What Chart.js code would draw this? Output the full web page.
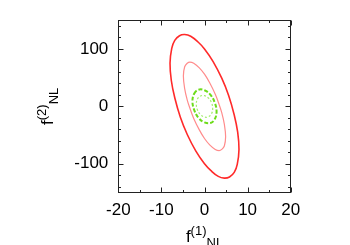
<!DOCTYPE html>
<html>
<head>
<meta charset="utf-8">
<script src="https://cdn.jsdelivr.net/npm/chart.js@4.4.1/dist/chart.umd.min.js"></script>
<style>
  html, body { margin: 0; padding: 0; background: #fff; }
</style>
</head>
<body>
<canvas id="chart" width="350" height="245"></canvas>
<script>
// axis ticks
const xTickValues = [-20, -10, 0, 10, 20];
const yTickValues = [-100, 0, 100];
const xMinorTicks = [-15, -5, 5, 15];
const yMinorTicks = [-140, -120, -80, -60, -40, -20, 20, 40, 60, 80, 120, 140];

// contour outlines, [f1, f2]
const outerRed = [
    [-8.0, 75], [-7.6, 101], [-6.9, 115], [-5.8, 123], [-4.6, 125], [-3.2, 122], [-1.5, 112],
    [0, 100], [2.0, 78], [4.0, 49], [5.6, 19], [6.9, -15], [7.7, -45],
    [8.0, -75], [7.6, -101], [6.9, -115], [5.8, -123], [4.6, -125], [3.2, -122], [1.5, -112],
    [0, -100], [-2.0, -78], [-4.0, -49], [-5.6, -19], [-6.9, 15], [-7.7, 45]
];
const innerRed = [
    [-4.9, 53], [-4.6, 69], [-4.0, 75], [-3.4, 77], [-2.5, 75], [-1.2, 67], [0, 56], [1.2, 41],
    [2.5, 21], [3.4, 3], [4.0, -11], [4.6, -31],
    [4.9, -53], [4.6, -69], [4.0, -75], [3.4, -77], [2.5, -75], [1.2, -67], [0, -56], [-1.2, -41],
    [-2.5, -21], [-3.4, -3], [-4.0, 11], [-4.6, 31]
];
const outerGreen = [
    [-2.8, 9], [-2.4, 22], [-1.4, 29], [0, 28], [1.4, 20], [2.4, 6],
    [2.8, -9], [2.4, -22], [1.4, -29], [0, -28], [-1.4, -20], [-2.4, -6]
];
const innerGreen = [
    [-1.9, 4], [-1.65, 12.6], [-0.95, 18], [0, 18.6], [0.95, 14.2], [1.65, 6],
    [1.9, -4], [1.65, -12.6], [0.95, -18], [0, -18.6], [-0.95, -14.2], [-1.65, -6]
];

const FONT = '"Liberation Sans", Arial, Helvetica, sans-serif';
const CLEAR = 'rgba(0,0,0,0)';

// close the loop: repeat the first three points and hide the first and last
// segments so every drawn piece of the spline gets two-sided tangents
function closedContour(points, color, width, dash) {
    const data = points.concat(points.slice(0, 3)).map(([x, y]) => ({ x, y }));
    const lastSeg = data.length - 2;
    return {
        data,
        showLine: true,
        borderColor: color,
        borderWidth: width,
        borderDash: dash,
        pointRadius: 0,
        tension: 0.4,
        fill: false,
        segment: {
            borderColor: ctx => (ctx.p0DataIndex === 0 || ctx.p0DataIndex === lastSeg) ? CLEAR : undefined
        }
    };
}

function drawRichLabel(ctx, parts, cx, baseY) {
    let total = 0;
    parts.forEach(p => {
        ctx.font = p.size + 'px ' + FONT;
        p.w = ctx.measureText(p.text).width;
        total += p.w;
    });
    let x = cx - total / 2;
    ctx.textBaseline = 'alphabetic';
    ctx.textAlign = 'left';
    parts.forEach(p => {
        ctx.font = p.size + 'px ' + FONT;
        ctx.fillText(p.text, x, baseY + p.dy);
        x += p.w;
    });
}

const framePlugin = {
    id: 'frame',
    afterDraw(chart) {
        const { ctx, chartArea: a, scales } = chart;
        const L = Math.round(a.left) + 0.5, R = Math.round(a.right) - 0.5;
        const T = Math.round(a.top) + 0.5, B = Math.round(a.bottom) - 0.5;
        ctx.save();
        ctx.strokeStyle = '#222';
        ctx.lineWidth = 1;
        ctx.strokeRect(L, T, R - L, B - T);

        // inward ticks on all four sides
        ctx.beginPath();
        const xt = (vals, len) => vals.forEach(v => {
            const px = Math.round(scales.x.getPixelForValue(v)) + 0.5;
            ctx.moveTo(px, B); ctx.lineTo(px, B - len);
            ctx.moveTo(px, T); ctx.lineTo(px, T + len);
        });
        const yt = (vals, len) => vals.forEach(v => {
            const py = Math.round(scales.y.getPixelForValue(v)) + 0.5;
            ctx.moveTo(L, py); ctx.lineTo(L + len, py);
            ctx.moveTo(R, py); ctx.lineTo(R - len, py);
        });
        xt(xTickValues, 5); xt(xMinorTicks, 2.5);
        yt(yTickValues, 5); yt(yMinorTicks, 2.5);
        ctx.stroke();

        // axis titles with super/subscripts
        ctx.fillStyle = '#000';
        const cx = (a.left + a.right) / 2;
        drawRichLabel(ctx, [
            { text: 'f', size: 17, dy: 0 },
            { text: '(1)', size: 13, dy: -7.5 },
            { text: 'NL', size: 13, dy: 4.5 }
        ], cx, 242);

        ctx.translate(53, (a.top + a.bottom) / 2);
        ctx.rotate(-Math.PI / 2);
        drawRichLabel(ctx, [
            { text: 'f', size: 17, dy: 0 },
            { text: '(2)', size: 13, dy: -7.5 },
            { text: 'NL', size: 13, dy: 4.5 }
        ], 0, 0);
        ctx.restore();
    }
};

new Chart(document.getElementById('chart'), {
    type: 'scatter',
    data: {
        datasets: [
            closedContour(outerRed, '#ff2a2a', 1.6, []),
            closedContour(innerRed, '#ff8c8c', 1.2, []),
            closedContour(outerGreen, '#6ddc1a', 2, [4, 2]),
            closedContour(innerGreen, '#a2ee6e', 1.2, [2, 2])
        ]
    },
    options: {
        responsive: false,
        animation: false,
        layout: { padding: { top: 19.5, right: 59.3, left: 0, bottom: 0 } },
        plugins: { legend: { display: false }, tooltip: { enabled: false } },
        scales: {
            x: {
                type: 'linear',
                min: -20,
                max: 20,
                afterBuildTicks: s => { s.ticks = xTickValues.map(v => ({ value: v })); },
                afterFit: s => { s.height = 52.5; },
                grid: { display: false, drawTicks: false },
                border: { display: false },
                ticks: { color: '#000', padding: 8, font: { family: FONT, size: 17 } }
            },
            y: {
                type: 'linear',
                min: -150,
                max: 150,
                afterBuildTicks: s => { s.ticks = yTickValues.map(v => ({ value: v })); },
                afterFit: s => { s.width = 118.3; },
                grid: { display: false, drawTicks: false },
                border: { display: false },
                ticks: { color: '#000', padding: 10, font: { family: FONT, size: 17 } }
            }
        }
    },
    plugins: [framePlugin]
});
</script>
</body>
</html>
